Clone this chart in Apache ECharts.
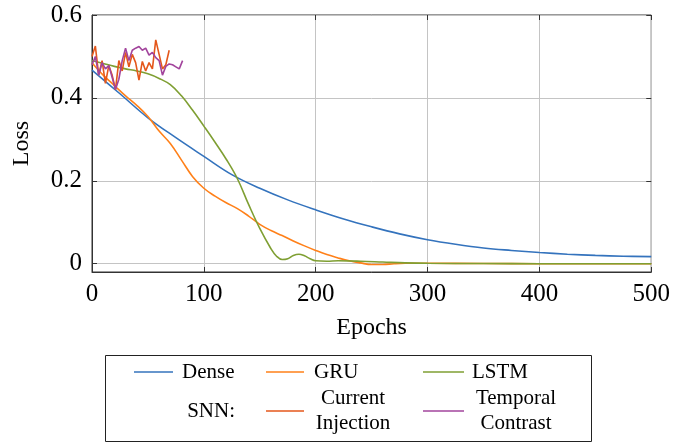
<!DOCTYPE html>
<html>
<head>
<meta charset="utf-8">
<script src="https://cdn.jsdelivr.net/npm/echarts@6/dist/echarts.min.js"></script>
<style>html,body{margin:0;padding:0;background:#fff}#c{width:673px;height:443px}</style>
</head>
<body>
<div id="c"></div>
<script>
// ---- data ----
var denseEpochs = [0,25,50,75,100,125,150,175,200,225,250,275,300,325,350,375,400,425,450,475,500];
var denseLoss   = [0.467,0.41,0.352,0.304,0.259,0.215,0.182,0.154,0.13,0.108,0.089,0.072,0.058,0.047,0.038,0.032,0.027,0.023,0.020,0.018,0.017];

var gruEpochs = [0,10,20,30,40,50,60,70,80,90,100,110,120,130,140,150,160,170,180,190,200,210,220,230,240,250,260,270,280,300,350,400,500];
var gruLoss   = [0.485,0.455,0.43,0.405,0.382,0.355,0.32,0.29,0.25,0.21,0.182,0.163,0.147,0.133,0.115,0.095,0.08,0.068,0.055,0.043,0.032,0.022,0.014,0.007,0.002,-0.002,-0.002,0.0,0.001,0.001,0.0005,0.0,0.0];

var lstmEpochs = [0,10,20,30,40,50,60,70,80,90,100,110,120,130,140,150,160,165,170,175,180,185,190,195,200,210,220,240,260,280,300,350,400,500];
var lstmLoss   = [0.49,0.483,0.476,0.47,0.465,0.458,0.447,0.432,0.405,0.37,0.332,0.293,0.252,0.205,0.143,0.085,0.036,0.018,0.01,0.012,0.02,0.023,0.019,0.012,0.007,0.006,0.007,0.006,0.004,0.002,0.001,0.0005,0.0,0.0];

var ciEpochs = [0,3,6,9,12,15,18,21,24,27,30,33,36,39,42,45,48,51,54,57,60,63,66,69];
var ciLoss   = [0.50,0.525,0.455,0.49,0.435,0.478,0.455,0.42,0.49,0.465,0.51,0.475,0.505,0.485,0.443,0.488,0.465,0.485,0.47,0.54,0.505,0.47,0.48,0.515];

var tcEpochs = [0,3,6,9,12,15,18,21,24,27,30,33,36,39,42,45,48,51,54,57,60,63,66,69,72,75,78,81];
var tcLoss   = [0.48,0.50,0.455,0.485,0.47,0.478,0.45,0.42,0.445,0.49,0.52,0.49,0.515,0.52,0.524,0.515,0.52,0.503,0.51,0.497,0.49,0.455,0.476,0.482,0.48,0.475,0.47,0.49];

var yTicks = [0, 0.2, 0.4, 0.6];
var xTicks = [0, 100, 200, 300, 400, 500];

var seriesNames = ['Dense', 'GRU', 'LSTM', 'Current Injection', 'Temporal Contrast'];
var colors = ['#3473bd', '#ff8019', '#7f9f33', '#e4571b', '#a2449c'];

function pairs(xs, ys) { return xs.map(function (x, i) { return [x, ys[i]]; }); }

var FONT = '"Liberation Serif", "DejaVu Serif", serif';
var chart = echarts.init(document.getElementById('c'), null, { renderer: 'canvas' });

var legendGraphics = [
  { type: 'rect', shape: { x: 105.5, y: 355.5, width: 486, height: 86 }, style: { fill: '#fff', stroke: '#222', lineWidth: 1 } },
  // row 1
  { type: 'line', shape: { x1: 134, y1: 372, x2: 173, y2: 372 }, style: { stroke: colors[0], lineWidth: 1.5 } },
  { type: 'text', style: { x: 182, y: 372, text: 'Dense', font: '21px ' + FONT, fill: '#000', textVerticalAlign: 'middle' } },
  { type: 'line', shape: { x1: 266, y1: 372, x2: 304, y2: 372 }, style: { stroke: colors[1], lineWidth: 1.5 } },
  { type: 'text', style: { x: 314, y: 372, text: 'GRU', font: '21px ' + FONT, fill: '#000', textVerticalAlign: 'middle' } },
  { type: 'line', shape: { x1: 423, y1: 372, x2: 464, y2: 372 }, style: { stroke: colors[2], lineWidth: 1.5 } },
  { type: 'text', style: { x: 472, y: 372, text: 'LSTM', font: '21px ' + FONT, fill: '#000', textVerticalAlign: 'middle' } },
  // row 2
  { type: 'text', style: { x: 235, y: 411, text: 'SNN:', font: '21px ' + FONT, fill: '#000', textAlign: 'right', textVerticalAlign: 'middle' } },
  { type: 'line', shape: { x1: 266, y1: 411, x2: 304, y2: 411 }, style: { stroke: colors[3], lineWidth: 1.5 } },
  { type: 'text', style: { x: 353, y: 398, text: 'Current', font: '21px ' + FONT, fill: '#000', textAlign: 'center', textVerticalAlign: 'middle' } },
  { type: 'text', style: { x: 353, y: 423, text: 'Injection', font: '21px ' + FONT, fill: '#000', textAlign: 'center', textVerticalAlign: 'middle' } },
  { type: 'line', shape: { x1: 423, y1: 411, x2: 464, y2: 411 }, style: { stroke: colors[4], lineWidth: 1.5 } },
  { type: 'text', style: { x: 516, y: 398, text: 'Temporal', font: '21px ' + FONT, fill: '#000', textAlign: 'center', textVerticalAlign: 'middle' } },
  { type: 'text', style: { x: 516, y: 423, text: 'Contrast', font: '21px ' + FONT, fill: '#000', textAlign: 'center', textVerticalAlign: 'middle' } }
];

function fmtY(v) { return v === 0 ? '0' : String(Math.round(v * 10) / 10); }

var option = {
  animation: false,
  backgroundColor: '#fff',
  grid: { left: 92, right: 20, top: 15, bottom: 171, show: true, borderColor: '#333', borderWidth: 1, backgroundColor: 'transparent' },
  xAxis: [{
    type: 'value', min: 0, max: 500, interval: 100,
    name: 'Epochs', nameLocation: 'middle', nameGap: 44,
    nameTextStyle: { fontFamily: FONT, fontSize: 24, color: '#000' },
    axisLine: { show: true, onZero: false, lineStyle: { color: '#333', width: 1 } },
    axisTick: { show: true, inside: true, length: 5, lineStyle: { color: '#333' } },
    axisLabel: { fontFamily: FONT, fontSize: 25, color: '#000', margin: 10 },
    splitLine: { show: true, lineStyle: { color: '#c4c4c4', width: 1 } }
  }, {
    type: 'value', min: 0, max: 500, interval: 100, position: 'top',
    axisLine: { show: false, onZero: false },
    axisTick: { show: true, inside: true, length: 5, lineStyle: { color: '#333' } },
    axisLabel: { show: false }, splitLine: { show: false }
  }],
  yAxis: [{
    type: 'value', min: -0.02, max: 0.6,
    name: 'Loss', nameLocation: 'middle', nameGap: 58, nameRotate: 90,
    nameTextStyle: { fontFamily: FONT, fontSize: 24, color: '#000' },
    axisLine: { show: true, onZero: false, lineStyle: { color: '#333', width: 1 } },
    axisTick: { show: true, inside: true, length: 5, customValues: yTicks, lineStyle: { color: '#333' } },
    axisLabel: { fontFamily: FONT, fontSize: 25, color: '#000', margin: 10, customValues: yTicks, formatter: fmtY },
    splitLine: { show: true, lineStyle: { color: '#c4c4c4', width: 1 } }
  }, {
    type: 'value', min: -0.02, max: 0.6, position: 'right',
    axisLine: { show: false, onZero: false },
    axisTick: { show: true, inside: true, length: 5, customValues: yTicks, lineStyle: { color: '#333' } },
    axisLabel: { show: false, customValues: yTicks }, splitLine: { show: false }
  }],
  series: [
    { name: seriesNames[0], type: 'line', data: pairs(denseEpochs, denseLoss), smooth: 0.4, showSymbol: false, lineStyle: { color: colors[0], width: 1.6 }, itemStyle: { color: colors[0] }, z: 3 },
    { name: seriesNames[1], type: 'line', data: pairs(gruEpochs, gruLoss), smooth: 0.4, showSymbol: false, lineStyle: { color: colors[1], width: 1.6 }, itemStyle: { color: colors[1] }, z: 4 },
    { name: seriesNames[2], type: 'line', data: pairs(lstmEpochs, lstmLoss), smooth: 0.4, showSymbol: false, lineStyle: { color: colors[2], width: 1.6 }, itemStyle: { color: colors[2] }, z: 5 },
    { name: seriesNames[3], type: 'line', data: pairs(ciEpochs, ciLoss), smooth: false, showSymbol: false, lineStyle: { color: colors[3], width: 1.6 }, itemStyle: { color: colors[3] }, z: 6 },
    { name: seriesNames[4], type: 'line', data: pairs(tcEpochs, tcLoss), smooth: false, showSymbol: false, lineStyle: { color: colors[4], width: 1.6 }, itemStyle: { color: colors[4] }, z: 7 }
  ],
  graphic: legendGraphics
};
chart.setOption(option);
</script>
</body>
</html>
